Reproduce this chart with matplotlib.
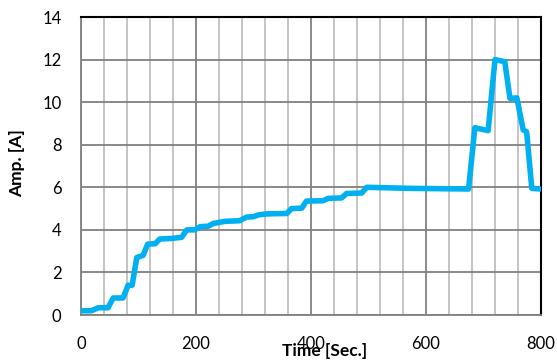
import numpy as np
import matplotlib.pyplot as plt
from matplotlib.ticker import MultipleLocator

# time [s] and current [A]
time_s = [0, 18, 30, 47, 56, 73, 82, 89, 97, 108, 116, 129, 137, 158, 175, 184,
          198, 207, 221, 230, 250, 276, 288, 300, 308, 323, 358, 366, 384, 392,
          421, 430, 453, 462, 488, 497, 572, 674, 685, 708, 720, 737, 746, 758,
          769, 775, 784, 800]
amp = [0.2, 0.2, 0.34, 0.34, 0.8, 0.8, 1.4, 1.4, 2.7, 2.8, 3.33, 3.35, 3.57, 3.6,
       3.65, 4.0, 4.0, 4.15, 4.17, 4.3, 4.4, 4.43, 4.6, 4.62, 4.7, 4.75, 4.77, 5.0,
       5.02, 5.35, 5.37, 5.48, 5.5, 5.71, 5.73, 6.0, 5.95, 5.92, 8.8, 8.66, 12.0,
       11.9, 10.18, 10.2, 8.7, 8.6, 5.95, 5.92]

plt.rcParams['font.family'] = ['Lato', 'DejaVu Sans']

fig = plt.figure(figsize=(5.57, 3.62), dpi=100)
ax = fig.add_axes([0.1454, 0.1298, 0.9713 - 0.1454, 0.953 - 0.1298])

ax.plot(time_s, amp, color='#00B0F0', lw=4.0, solid_joinstyle='round',
        solid_capstyle='round', zorder=3)

ax.set_xlim(0, 800)
ax.set_ylim(0, 14)
ax.xaxis.set_major_locator(MultipleLocator(200))
ax.xaxis.set_minor_locator(MultipleLocator(40))
ax.yaxis.set_major_locator(MultipleLocator(2))

ax.grid(True, which='minor', axis='x', color='#BFBFBF', lw=1.3)
ax.grid(True, which='major', axis='both', color='#808080', lw=1.3)
ax.set_axisbelow(True)

ax.tick_params(which='both', length=0, labelsize=12, colors='black')
ax.tick_params(axis='x', pad=15)
ax.tick_params(axis='y', pad=14)

for s in ['left', 'bottom']:
    ax.spines[s].set_color('#808080')
    ax.spines[s].set_linewidth(1.3)
for s in ['top', 'right']:
    ax.spines[s].set_color('black')
    ax.spines[s].set_linewidth(1.5)

ax.set_xlabel('Time [Sec.]', fontsize=12.5, fontweight='bold')
ax.set_ylabel('Amp. [A]', fontsize=12.5, fontweight='bold')
ax.xaxis.set_label_coords(0.53, -0.094)
ax.yaxis.set_label_coords(-0.122, 0.51)

fig.savefig('out.png', dpi=100)
